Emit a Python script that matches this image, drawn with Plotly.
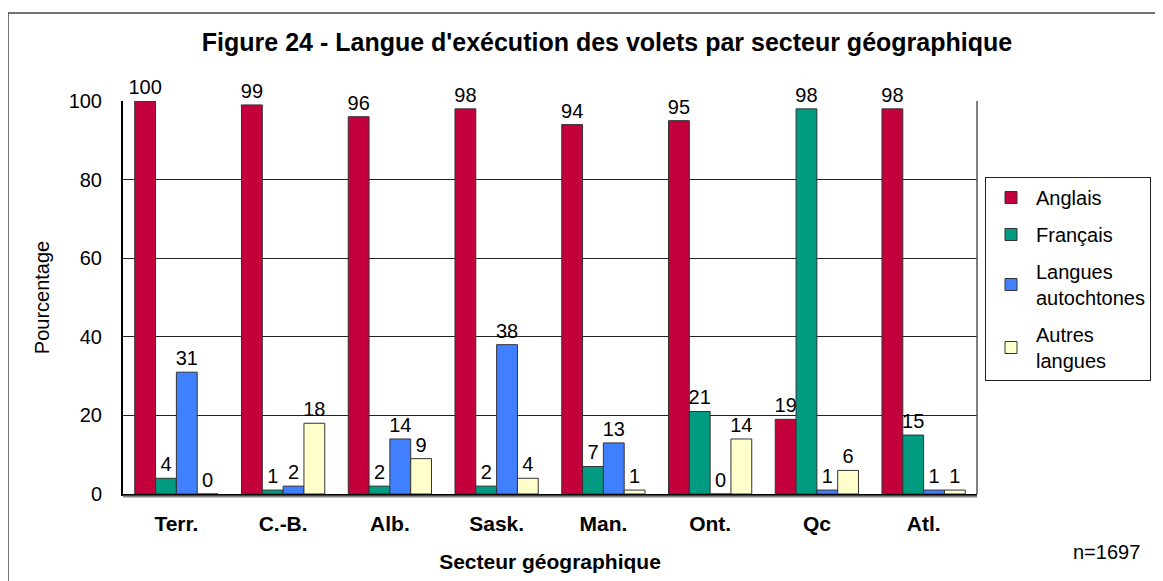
import plotly.graph_objects as go

categories = ["Terr.", "C.-B.", "Alb.", "Sask.", "Man.", "Ont.", "Qc", "Atl."]
anglais = [100, 99, 96, 98, 94, 95, 19, 98]
francais = [4, 1, 2, 2, 7, 21, 98, 15]
autochtones = [31, 2, 14, 38, 13, 0, 1, 1]
autres = [0, 18, 9, 4, 1, 14, 6, 1]
series_names = ["Anglais", "Français", "Langues<br>autochtones", "Autres<br>langues"]
series_values = [anglais, francais, autochtones, autres]
colors = ["#C3003C", "#009B80", "#4080FF", "#FFFFCC"]

FONT = "Arial, Liberation Sans, sans-serif"

fig = go.Figure()
for i, (name, vals, col) in enumerate(zip(series_names, series_values, colors)):
    fig.add_trace(go.Bar(
        x=categories, y=vals, name=name,
        marker=dict(color=col, line=dict(color="#333333", width=1)),
        text=[str(v) for v in vals], textposition="outside",
        textfont=dict(family=FONT, size=20, color="black"),
        constraintext="none",
        cliponaxis=False, legendgroup=f"g{i}",
    ))

# page body has an 8px margin: figure coords = screen coords - 8
OFF = 8
W, H = 1163 - OFF, 581 - OFF
L, R, T, B = 123 - OFF, 977 - OFF, 101 - OFF, 494 - OFF
pw, ph = R - L, B - T

def px(x):
    return (x - OFF - L) / pw

def py(y):
    return (B - (y - OFF)) / ph

shapes = [
    # outer frame
    dict(type="rect", xref="paper", yref="paper", x0=px(8), x1=px(1185), y0=py(600), y1=py(13),
         line=dict(color="#444444", width=1.5), fillcolor="rgba(0,0,0,0)", layer="below"),
    # right plot border
    dict(type="line", xref="paper", yref="paper", x0=1, x1=1, y0=0, y1=1,
         line=dict(color="#555555", width=1.5)),
    # x axis shadow
    dict(type="line", xref="paper", yref="paper", x0=0, x1=1, y0=py(496.5), y1=py(496.5),
         line=dict(color="#888888", width=2)),
]

fig.update_layout(
    width=W, height=H,
    margin=dict(l=L, r=W - R, t=T, b=H - B, pad=0),
    paper_bgcolor="white", plot_bgcolor="white",
    font=dict(family=FONT, size=20, color="black"),
    title=dict(text="<b>Figure 24 - Langue d'exécution des volets par secteur géographique</b>",
               x=(607 - OFF) / W, xanchor="center", y=1 - (42 - OFF) / H, yanchor="middle",
               xref="container", yref="container",
               font=dict(family=FONT, size=25, color="black")),
    barmode="group", bargap=0.22, bargroupgap=0,
    showlegend=True,
    legend=dict(x=px(985), xanchor="left", y=py(177), yanchor="top",
                bordercolor="#222222", borderwidth=1, bgcolor="white",
                font=dict(family=FONT, size=20, color="black"),
                tracegroupgap=8, entrywidth=140, itemwidth=40),
    xaxis=dict(
        tickfont=dict(family=FONT, size=21, color="black", weight="bold"),
        title=dict(text="<b>Secteur géographique</b>", font=dict(family=FONT, size=21), standoff=20),
        showline=True, linecolor="black", linewidth=2, ticks="", showgrid=False,
        ticklabelstandoff=10,
    ),
    yaxis=dict(
        range=[0, 100], tickvals=[0, 20, 40, 60, 80, 100],
        tickfont=dict(family=FONT, size=20, color="black"),
        title=dict(text="Pourcentage", font=dict(family=FONT, size=20), standoff=14),
        showline=True, linecolor="black", linewidth=2, ticks="",
        showgrid=True, gridcolor="#222222", gridwidth=1, zeroline=False,
        ticklabelstandoff=15,
    ),
    shapes=shapes,
    annotations=[dict(text="n=1697", xref="paper", yref="paper", x=px(1106), y=py(552),
                      xanchor="center", yanchor="middle", showarrow=False,
                      font=dict(family=FONT, size=20, color="black"))],
)

fig.write_html("out.html")
